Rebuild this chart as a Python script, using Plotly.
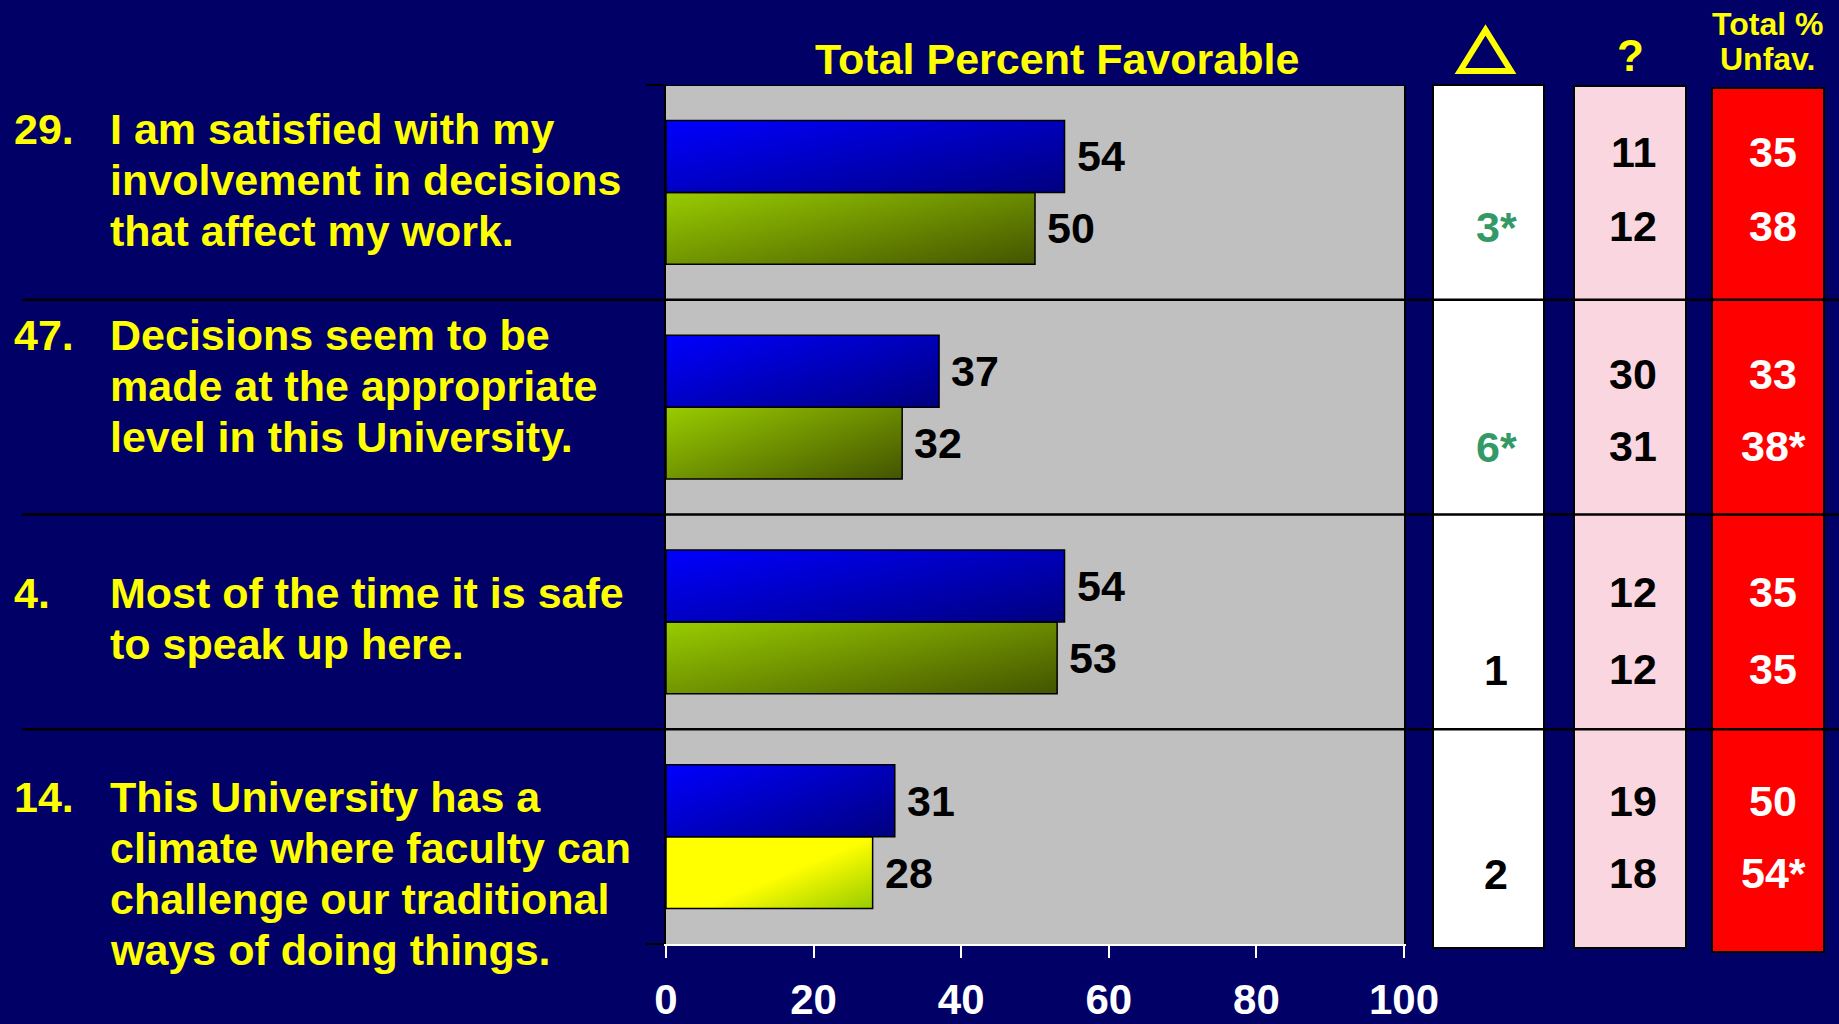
import base64
import struct
import zlib

import numpy as np
import plotly.graph_objects as go

# ---------------------------------------------------------------- data
item_numbers = ["29.", "47.", "4.", "14."]
item_lines = [
    ["I am satisfied with my", "involvement in decisions", "that affect my work."],
    ["Decisions seem to be", "made at the appropriate", "level in this University."],
    ["Most of the time it is safe", "to speak up here."],
    ["This University has a", "climate where faculty can",
     "challenge our traditional", "ways of doing things."],
]
favorable_current = [54, 37, 54, 31]
favorable_prior = [50, 32, 53, 28]
change = ["3*", "6*", "1", "2"]
unsure_current = ["11", "30", "12", "19"]
unsure_prior = ["12", "31", "12", "18"]
unfavorable_current = ["35", "33", "35", "50"]
unfavorable_prior = ["38", "38*", "35", "54*"]
x_ticks = [0, 20, 40, 60, 80, 100]

# ---------------------------------------------------------------- style
W, H = 1839, 1024
NAVY = "#000066"
YELLOW = "#FFFF00"
FONT = "Liberation Sans, Arial, sans-serif"
prior_palette = ["olive", "olive", "olive", "yellow"]
gradients = {
    "blue": [(0.0, "#0000FF"), (1.0, "#000080")],
    "olive": [(0.0, "#99CC00"), (1.0, "#445500")],
    "yellow": [(0.0, "#FFFF00"), (0.55, "#FFFF00"), (1.0, "#99CC00")],
}
first_line_offset = [44, 35, 78, 68]   # px below the row's top edge
line_step = 51
cur_shift = [4, -3, -6, 0]             # px nudges for the side-column figures
pri_shift = [2, -3, -11, 0]
BAR_W = 0.335
TXT = 43


def px_x(p):
    return p / W


def px_y(p):
    return 1 - p / H


def hex_rgb(h):
    h = h.lstrip("#")
    return [int(h[i:i + 2], 16) for i in (0, 2, 4)]


def gradient_uri(stops, w=256, h=48):
    u = np.linspace(0, 1, w)[None, :]
    v = np.linspace(0, 1, h)[:, None]
    t = 0.55 * u + 0.45 * v
    pos = [s[0] for s in stops]
    cols = np.array([hex_rgb(s[1]) for s in stops], dtype=float)
    rgb = np.stack([np.interp(t, pos, cols[:, c]) for c in range(3)], axis=-1)
    rgb = np.clip(np.round(rgb), 0, 255).astype(np.uint8)
    raw = b"".join(b"\x00" + rgb[j].tobytes() for j in range(h))

    def chunk(tag, data):
        body = tag + data
        return struct.pack(">I", len(data)) + body + struct.pack(">I", zlib.crc32(body) & 0xFFFFFFFF)

    png = (b"\x89PNG\r\n\x1a\n"
           + chunk(b"IHDR", struct.pack(">IIBBBBB", w, h, 8, 2, 0, 0, 0))
           + chunk(b"IDAT", zlib.compress(raw, 9))
           + chunk(b"IEND", b""))
    return "data:image/png;base64," + base64.b64encode(png).decode()


grad_src = {k: gradient_uri(v) for k, v in gradients.items()}

rows = list(range(len(item_numbers)))
y_cur = [r - BAR_W / 2 for r in rows]
y_pri = [r + BAR_W / 2 for r in rows]

fig = go.Figure()
bar_line = dict(color="black", width=1.5)
fig.add_trace(go.Bar(
    x=favorable_current, y=rows, orientation="h", offset=-BAR_W, width=BAR_W,
    marker=dict(color="rgba(0,0,0,0)", line=bar_line), name="Current",
    hoverinfo="x",
))
fig.add_trace(go.Bar(
    x=favorable_prior, y=rows, orientation="h", offset=0, width=BAR_W,
    marker=dict(color="rgba(0,0,0,0)", line=bar_line), name="Prior",
    hoverinfo="x",
))

# gradient fills sized by the same values as the bars
images = []
for r in rows:
    images.append(dict(source=grad_src["blue"], xref="x", yref="y",
                       x=0, y=y_cur[r], sizex=favorable_current[r], sizey=BAR_W,
                       xanchor="left", yanchor="middle", sizing="stretch", layer="below"))
    images.append(dict(source=grad_src[prior_palette[r]], xref="x", yref="y",
                       x=0, y=y_pri[r], sizex=favorable_prior[r], sizey=BAR_W,
                       xanchor="left", yanchor="middle", sizing="stretch", layer="below"))

ann = []
label_font = dict(family=FONT, size=TXT, color="black", weight="bold")
for r in rows:
    ann.append(dict(x=favorable_current[r], y=y_cur[r], xref="x", yref="y",
                    text=str(favorable_current[r]), showarrow=False,
                    xanchor="left", yanchor="middle", xshift=10, font=label_font))
    ann.append(dict(x=favorable_prior[r], y=y_pri[r], xref="x", yref="y",
                    text=str(favorable_prior[r]), showarrow=False,
                    xanchor="left", yanchor="middle", xshift=10, font=label_font))

# survey item wording on the left
q_font = dict(family=FONT, size=TXT, color=YELLOW, weight="bold")
for r in rows:
    ann.append(dict(x=px_x(12), y=r - 0.5, xref="paper", yref="y",
                    text=item_numbers[r], showarrow=False, xanchor="left",
                    yanchor="middle", yshift=-first_line_offset[r], font=q_font))
    for k, line in enumerate(item_lines[r]):
        ann.append(dict(x=px_x(108), y=r - 0.5, xref="paper", yref="y",
                        text=line, showarrow=False, xanchor="left", yanchor="middle",
                        yshift=-(first_line_offset[r] + k * line_step), font=q_font))

# side columns: change, unsure, total unfavorable
col_font = dict(family=FONT, size=TXT, weight="bold")
for r in rows:
    sig = change[r].endswith("*")
    ann.append(dict(x=px_x(1496), y=y_pri[r], xref="paper", yref="y", text=change[r],
                    showarrow=False, xanchor="center", yanchor="middle",
                    yshift=pri_shift[r] - 1,
                    font=dict(col_font, color="#339966" if sig else "black")))
    for yy, txt, sh in ((y_cur[r], unsure_current[r], cur_shift[r]),
                        (y_pri[r], unsure_prior[r], pri_shift[r])):
        ann.append(dict(x=px_x(1633), y=yy, xref="paper", yref="y", text=txt,
                        showarrow=False, xanchor="center", yanchor="middle",
                        yshift=sh, font=dict(col_font, color="black")))
    for yy, txt, sh in ((y_cur[r], unfavorable_current[r], cur_shift[r]),
                        (y_pri[r], unfavorable_prior[r], pri_shift[r])):
        ann.append(dict(x=px_x(1773), y=yy, xref="paper", yref="y", text=txt,
                        showarrow=False, xanchor="center", yanchor="middle",
                        yshift=sh, font=dict(col_font, color="white")))

# headers
hdr = dict(xref="paper", yref="paper", showarrow=False, xanchor="center", yanchor="middle")
ann.append(dict(hdr, x=px_x(1057), y=px_y(59), text="Total Percent Favorable",
                font=dict(family=FONT, size=TXT, color=YELLOW, weight="bold")))
ann.append(dict(hdr, x=px_x(1630), y=px_y(55), text="?",
                font=dict(family=FONT, size=44, color=YELLOW, weight="bold")))
for txt, yc in (("Total %", 24), ("Unfav.", 59)):
    ann.append(dict(hdr, x=px_x(1767), y=px_y(yc), text=txt,
                    font=dict(family=FONT, size=32, color=YELLOW, weight="bold")))

shapes = []
for (x0, x1, y0, y1, fill) in ((1433, 1544, 85, 948, "white"),
                               (1574, 1686, 86, 948, "#FAD7E0"),
                               (1712, 1824, 88, 952, "#FF0000")):
    shapes.append(dict(type="rect", xref="paper", yref="paper",
                       x0=px_x(x0), x1=px_x(x1), y0=px_y(y1), y1=px_y(y0),
                       fillcolor=fill, line=dict(color="black", width=2), layer="below"))
# row separators across the whole slide
for r in rows[1:]:
    shapes.append(dict(type="line", xref="paper", yref="y", x0=px_x(22), x1=1,
                       y0=r - 0.5, y1=r - 0.5, line=dict(color="black", width=2.5)))
# top edge of the bar panel
shapes.append(dict(type="line", xref="x", yref="y", x0=0, x1=100, y0=-0.5, y1=-0.5,
                   line=dict(color="black", width=2)))
# change symbol
tri = (f"M {px_x(1460)} {px_y(71)} L {px_x(1485.5)} {px_y(30)} "
       f"L {px_x(1511)} {px_y(71)} Z")
shapes.append(dict(type="path", xref="paper", yref="paper", path=tri,
                   line=dict(color=YELLOW, width=6), fillcolor="rgba(0,0,0,0)"))

fig.update_layout(
    width=W, height=H, margin=dict(l=0, r=0, t=0, b=0, autoexpand=False),
    paper_bgcolor=NAVY, plot_bgcolor="#C0C0C0",
    barmode="overlay", showlegend=False,
    annotations=ann, shapes=shapes, images=images,
    xaxis=dict(domain=[px_x(666), px_x(1404)], range=[0, 100], tickvals=x_ticks,
               ticks="outside", ticklen=12, tickwidth=2, tickcolor="white",
               showline=True, linecolor="white", linewidth=2, showgrid=False,
               zeroline=False, ticklabelstandoff=6, automargin=False,
               tickfont=dict(family=FONT, size=42, color="white", weight="bold")),
    yaxis=dict(domain=[px_y(944), px_y(85)], range=[3.5, -0.5],
               tickvals=[-0.5, 0.5, 1.5, 2.5, 3.5], showticklabels=False,
               ticks="outside", ticklen=18, tickwidth=2, tickcolor="black",
               showline=True, linecolor="black", linewidth=2, mirror=True,
               showgrid=False, zeroline=False, automargin=False),
)

fig.write_html("out.html")
